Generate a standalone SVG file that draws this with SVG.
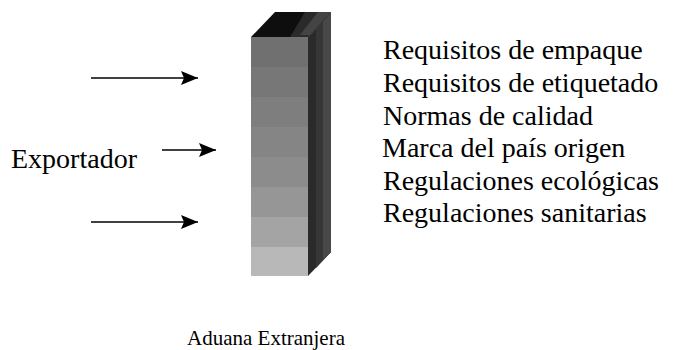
<svg xmlns="http://www.w3.org/2000/svg" width="691" height="350" viewBox="0 0 691 350">
  <style>
    .t { font-size: 28px; fill: #000; font-family: 'Liberation Serif', serif; }
    .s { font-size: 21px; fill: #000; font-family: 'Liberation Serif', serif; }
    .arrow { stroke: #000; stroke-width: 1.7; fill: none; }
  </style>
  <defs>
    <marker id="ah" markerUnits="userSpaceOnUse" markerWidth="19" markerHeight="16" refX="17" refY="8" orient="auto">
      <path d="M0,1 L17,8 L0,15 L3,8 Z" fill="#000"/>
    </marker>
  </defs>

  <g id="aduana">
    <rect x="251" y="37" width="57" height="30" fill="#707070"/>
    <rect x="251" y="67" width="57" height="30" fill="#777"/>
    <rect x="251" y="97" width="57" height="30" fill="#7e7e7e"/>
    <rect x="251" y="127" width="57" height="30" fill="#858585"/>
    <rect x="251" y="157" width="57" height="30" fill="#8c8c8c"/>
    <rect x="251" y="187" width="57" height="30" fill="#969696"/>
    <rect x="251" y="217" width="57" height="30" fill="#a4a4a4"/>
    <rect x="251" y="247" width="57" height="29" fill="#b8b8b8"/>
    <polygon points="308,37 331,12 331,252 308,276" fill="#2a2a2a"/>
    <polygon points="316,28 331,12 331,252 316,268" fill="#363636"/>
    <polygon points="323,21 331,12 331,252 323,260" fill="#484848"/>
    <polygon points="251,37 275,12 331,12 308,37" fill="#0e0e0e"/>
    <polygon points="305,12 331,12 308,37 290,37" fill="#2a2a2a"/>
    <polygon points="318,12 331,12 310,35 300,35" fill="#444"/>
    <text class="s" style="font-family:'Liberation Serif'" x="187" y="345">Aduana Extranjera</text>
  </g>

  <g id="exportador">
    <text class="t" style="font-family:'Liberation Serif'" x="11" y="168">Exportador</text>
  </g>

  <g id="requisitos">
    <text class="t" style="font-family:'Liberation Serif'" x="383" y="59">Requisitos de empaque</text>
    <text class="t" style="font-family:'Liberation Serif'" x="383" y="92">Requisitos de etiquetado</text>
    <text class="t" style="font-family:'Liberation Serif'" x="383" y="124.5">Normas de calidad</text>
    <text class="t" style="font-family:'Liberation Serif'" x="382" y="157">Marca del país origen</text>
    <text class="t" style="font-family:'Liberation Serif'" x="383" y="189.5">Regulaciones ecológicas</text>
    <text class="t" style="font-family:'Liberation Serif'" x="383" y="222">Regulaciones sanitarias</text>
  </g>

  <g id="connectors">
    <line class="arrow" x1="91" y1="78" x2="198" y2="78" marker-end="url(#ah)"/>
    <line class="arrow" x1="162" y1="150" x2="216" y2="150" marker-end="url(#ah)"/>
    <line class="arrow" x1="91" y1="222" x2="198" y2="222" marker-end="url(#ah)"/>
  </g>
</svg>
